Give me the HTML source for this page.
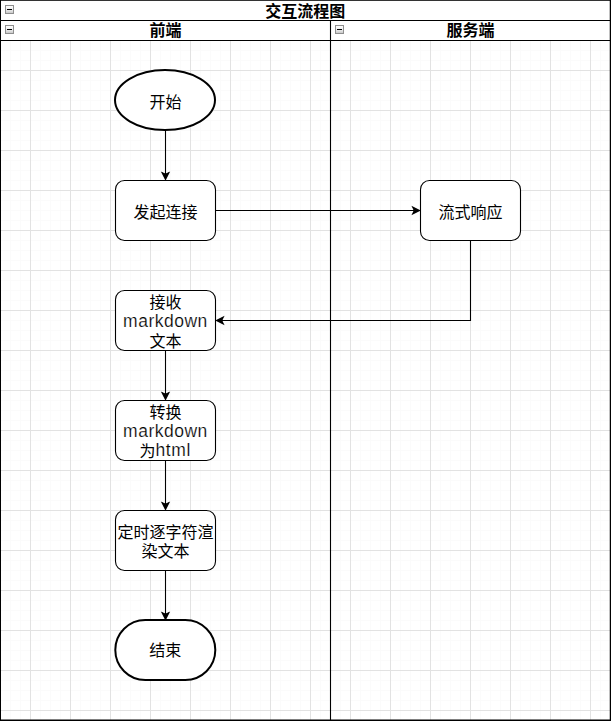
<!DOCTYPE html>
<html lang="zh"><head><meta charset="utf-8"><title>交互流程图</title>
<style>html,body{margin:0;padding:0;background:#fff}body{width:611px;height:721px;overflow:hidden;font-family:"Liberation Sans","Noto Sans CJK SC",sans-serif}svg{display:block}text{font-family:"Liberation Sans","Noto Sans CJK SC",sans-serif;fill:#000}.lt{stroke:#fff;stroke-width:0.2px;paint-order:fill stroke}</style>
</head><body>
<svg width="611" height="721" viewBox="0 0 611 721">
<defs>
<linearGradient id="ig" x1="0" y1="0" x2="0" y2="1"><stop offset="0" stop-color="#ffffff"/><stop offset="0.45" stop-color="#f2f2f2"/><stop offset="1" stop-color="#c4c4c4"/></linearGradient>
</defs>
<rect x="0" y="0" width="611" height="721" fill="#fff"/>
<path d="M10.5 41V720M20.5 41V720M40.5 41V720M50.5 41V720M60.5 41V720M80.5 41V720M90.5 41V720M100.5 41V720M120.5 41V720M130.5 41V720M140.5 41V720M160.5 41V720M170.5 41V720M180.5 41V720M200.5 41V720M210.5 41V720M220.5 41V720M240.5 41V720M250.5 41V720M260.5 41V720M280.5 41V720M290.5 41V720M300.5 41V720M320.5 41V720M330.5 41V720M340.5 41V720M360.5 41V720M370.5 41V720M380.5 41V720M400.5 41V720M410.5 41V720M420.5 41V720M440.5 41V720M450.5 41V720M460.5 41V720M480.5 41V720M490.5 41V720M500.5 41V720M520.5 41V720M530.5 41V720M540.5 41V720M560.5 41V720M570.5 41V720M580.5 41V720M600.5 41V720M1 50.5H610M1 60.5H610M1 80.5H610M1 90.5H610M1 100.5H610M1 120.5H610M1 130.5H610M1 140.5H610M1 160.5H610M1 170.5H610M1 180.5H610M1 200.5H610M1 210.5H610M1 220.5H610M1 240.5H610M1 250.5H610M1 260.5H610M1 280.5H610M1 290.5H610M1 300.5H610M1 320.5H610M1 330.5H610M1 340.5H610M1 360.5H610M1 370.5H610M1 380.5H610M1 400.5H610M1 410.5H610M1 420.5H610M1 440.5H610M1 450.5H610M1 460.5H610M1 480.5H610M1 490.5H610M1 500.5H610M1 520.5H610M1 530.5H610M1 540.5H610M1 560.5H610M1 570.5H610M1 580.5H610M1 600.5H610M1 610.5H610M1 620.5H610M1 640.5H610M1 650.5H610M1 660.5H610M1 680.5H610M1 690.5H610M1 700.5H610" fill="none" stroke="#fbfbfb" stroke-width="1" shape-rendering="crispEdges"/>
<path d="M30.5 41V720M70.5 41V720M110.5 41V720M150.5 41V720M190.5 41V720M230.5 41V720M270.5 41V720M310.5 41V720M350.5 41V720M390.5 41V720M430.5 41V720M470.5 41V720M510.5 41V720M550.5 41V720M590.5 41V720M1 70.5H610M1 110.5H610M1 150.5H610M1 190.5H610M1 230.5H610M1 270.5H610M1 310.5H610M1 350.5H610M1 390.5H610M1 430.5H610M1 470.5H610M1 510.5H610M1 550.5H610M1 590.5H610M1 630.5H610M1 670.5H610M1 710.5H610" fill="none" stroke="#e2e2e2" stroke-width="1" shape-rendering="crispEdges"/>
<g fill="none" stroke="#000" stroke-width="1.1">
</g><g fill="#000" stroke="none"><rect x="0" y="0" width="1" height="721"/><rect x="0" y="0" width="611" height="0.8"/><rect x="609.75" y="0" width="1.25" height="721"/><rect x="0" y="719.5" width="611" height="1.5"/></g><g fill="none" stroke="#000" stroke-width="1.1">
<path d="M0.5 20.5H610.5M0.5 40.5H610.5M330.5 20.5V720.5"/>
</g>
<g transform="translate(5,5)"><rect x="0.5" y="0.5" width="8" height="8" fill="url(#ig)" stroke="#8e8e8e" stroke-width="1"/><rect x="2" y="4" width="5" height="1" fill="#000"/></g>
<g transform="translate(5,25)"><rect x="0.5" y="0.5" width="8" height="8" fill="url(#ig)" stroke="#8e8e8e" stroke-width="1"/><rect x="2" y="4" width="5" height="1" fill="#000"/></g>
<g transform="translate(335,25)"><rect x="0.5" y="0.5" width="8" height="8" fill="url(#ig)" stroke="#8e8e8e" stroke-width="1"/><rect x="2" y="4" width="5" height="1" fill="#000"/></g>
<path d="M165.5 130.5L165.5 174.33" fill="none" stroke="#000" stroke-width="1.1" stroke-miterlimit="10"/>
<path d="M165.5 179.58L162 172.58L165.5 174.33L169 172.58Z" fill="#000" stroke="#000" stroke-width="1.05" stroke-miterlimit="10"/>
<path d="M215.5 210.5L414.33 210.5" fill="none" stroke="#000" stroke-width="1.1" stroke-miterlimit="10"/>
<path d="M419.58 210.5L412.58 214L414.33 210.5L412.58 207Z" fill="#000" stroke="#000" stroke-width="1.05" stroke-miterlimit="10"/>
<path d="M470.5 240.5L470.5 320.5L221.67 320.5" fill="none" stroke="#000" stroke-width="1.1" stroke-miterlimit="10"/>
<path d="M216.42 320.5L223.42 317L221.67 320.5L223.42 324Z" fill="#000" stroke="#000" stroke-width="1.05" stroke-miterlimit="10"/>
<path d="M165.5 350.5L165.5 394.33" fill="none" stroke="#000" stroke-width="1.1" stroke-miterlimit="10"/>
<path d="M165.5 399.58L162 392.58L165.5 394.33L169 392.58Z" fill="#000" stroke="#000" stroke-width="1.05" stroke-miterlimit="10"/>
<path d="M165.5 460.5L165.5 504.33" fill="none" stroke="#000" stroke-width="1.1" stroke-miterlimit="10"/>
<path d="M165.5 509.58L162 502.58L165.5 504.33L169 502.58Z" fill="#000" stroke="#000" stroke-width="1.05" stroke-miterlimit="10"/>
<path d="M165.5 570.5L165.5 614.33" fill="none" stroke="#000" stroke-width="1.1" stroke-miterlimit="10"/>
<path d="M165.5 619.58L162 612.58L165.5 614.33L169 612.58Z" fill="#000" stroke="#000" stroke-width="1.05" stroke-miterlimit="10"/>
<ellipse cx="165" cy="100.1" rx="50" ry="30" fill="#fff" stroke="#000" stroke-width="2"/>
<rect x="115.5" y="180.5" width="100" height="60" rx="9" ry="9" fill="#fff" stroke="#000" stroke-width="1.1"/>
<rect x="420.5" y="180.5" width="100" height="60" rx="9" ry="9" fill="#fff" stroke="#000" stroke-width="1.1"/>
<rect x="115.5" y="290.5" width="100" height="60" rx="9" ry="9" fill="#fff" stroke="#000" stroke-width="1.1"/>
<rect x="115.5" y="400.5" width="100" height="60" rx="9" ry="9" fill="#fff" stroke="#000" stroke-width="1.1"/>
<rect x="115.5" y="510.5" width="100" height="60" rx="9" ry="9" fill="#fff" stroke="#000" stroke-width="1.1"/>
<rect x="115.3" y="620" width="100" height="60" rx="30" ry="30" fill="#fff" stroke="#000" stroke-width="2"/>
<text x="305.3" y="16.5" font-size="16" font-weight="bold" text-anchor="middle">交互流程图</text>
<text x="165.5" y="36.3" font-size="16" font-weight="bold" text-anchor="middle">前端</text>
<text x="470.4" y="36" font-size="16" font-weight="bold" text-anchor="middle">服务端</text>
<text x="165.5" y="107.5" font-size="16" text-anchor="middle">开始</text>
<text x="165.5" y="217.5" font-size="16" text-anchor="middle">发起连接</text>
<text x="470.5" y="217.5" font-size="16" text-anchor="middle">流式响应</text>
<text x="165.5" y="308.3" font-size="16" text-anchor="middle">接收</text>
<text x="123.1" y="326.8" font-size="17.5" textLength="84.2" lengthAdjust="spacing" class="lt">markdown</text>
<text x="165.5" y="346.7" font-size="16" text-anchor="middle">文本</text>
<text x="165.5" y="418.3" font-size="16" text-anchor="middle">转换</text>
<text x="123.1" y="436.8" font-size="17.5" textLength="84.2" lengthAdjust="spacing" class="lt">markdown</text>
<text x="139.4" y="456.5" font-size="16">为</text>
<text x="155.4" y="456" font-size="17.5" textLength="35.1" lengthAdjust="spacing" class="lt">html</text>
<text x="165.5" y="537.8" font-size="16" text-anchor="middle">定时逐字符渲</text>
<text x="165.5" y="557" font-size="16" text-anchor="middle">染文本</text>
<text x="165.3" y="656.3" font-size="16" text-anchor="middle">结束</text>
</svg>
</body></html>
